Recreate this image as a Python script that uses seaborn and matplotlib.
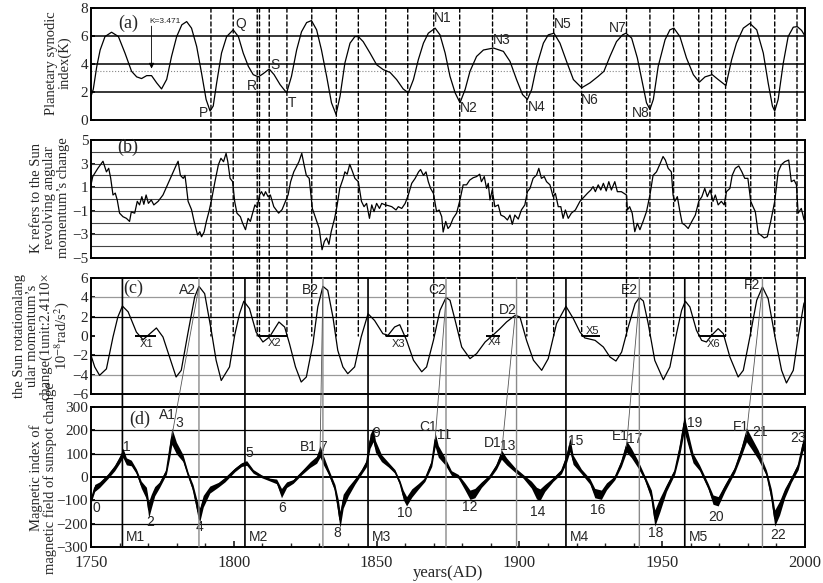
import numpy as np
import matplotlib
matplotlib.use("Agg")
import matplotlib.pyplot as plt
import seaborn as sns
from matplotlib.patches import ConnectionPatch

# ---------------- data ----------------
a_years = [1750, 1750.8, 1752, 1753.2, 1754.9, 1757.2, 1759.6, 1761.9, 1764.2, 1766,
           1767.7, 1769.5, 1771.2, 1773, 1774.7, 1776.5, 1778.2, 1780, 1781.8, 1783.5,
           1785.2, 1787, 1788.7, 1790.3, 1791.7, 1792.8, 1794, 1795.7, 1797.5, 1799.8,
           1801.6, 1803.3, 1805.1, 1806.8, 1808.6, 1810.3, 1812.4, 1814.1, 1816.2, 1818.5,
           1820.2, 1822, 1823.7, 1825.5, 1827.2, 1829, 1830.7, 1832.5, 1834.2, 1835.8,
           1837.2, 1838.9, 1840.7, 1842.4, 1843.6, 1845.3, 1847.7, 1850, 1852.3, 1854.7,
           1857, 1859.3, 1861.1, 1862.9, 1864.6, 1866.4, 1868.1, 1870.5, 1872.2, 1874,
           1875.7, 1877.5, 1879.2, 1881, 1882.7, 1885, 1887.4, 1890.9, 1894.4, 1896.7,
           1899, 1901.1, 1902.8, 1904.3, 1906, 1908.4, 1910.1, 1912.1, 1914.2, 1916.5,
           1918.9, 1921.8, 1924.7, 1927.6, 1929.6, 1931.7, 1934, 1936.1, 1937.3, 1939.3,
           1941.3, 1943.1, 1944.5, 1945.7, 1946.9, 1948.6, 1951, 1952.7, 1954.1, 1956.2,
           1958.5, 1960.9, 1963, 1965, 1967.5, 1969.6, 1972.3, 1974.3, 1976, 1978.4,
           1980.7, 1983.1, 1985.4, 1987.1, 1988.6, 1989.4, 1990.6, 1992.4, 1994.1, 1995.9,
           1997.3, 1998.8, 2000]
a_vals = [1.7, 2.2, 3.8, 5.0, 5.96, 6.27, 5.96, 4.78, 3.48, 3.08,
          2.96, 3.17, 3.17, 2.65, 2.22, 2.9, 4.54, 5.96, 6.8, 7.03,
          6.56, 5.25, 3.36, 1.47, 0.64, 1.0, 2.65, 4.78, 5.96, 6.44,
          5.96, 4.78, 3.83, 3.24, 3.08, 3.31, 3.64, 3.24, 2.53, 1.94,
          3.12, 5.0, 6.3, 6.96, 7.1, 6.44, 5.0, 3.12, 1.23, 0.4,
          1.7, 4.07, 5.49, 5.96, 5.96, 5.6, 4.78, 3.95, 3.6, 3.4,
          2.89, 2.22, 1.94, 2.89, 4.3, 5.49, 6.2, 6.56, 6.08, 4.78,
          3.12, 1.94, 1.23, 2.18, 3.48, 4.54, 5.0, 5.14, 4.9, 4.19,
          2.89, 1.82, 1.47, 2.18, 3.83, 5.49, 6.08, 6.2, 5.49, 4.19,
          2.89, 2.3, 2.65, 3.12, 3.48, 4.54, 5.6, 6.08, 6.2, 5.85,
          4.43, 2.65, 1.23, 0.76, 1.47, 3.83, 5.73, 6.44, 6.56, 5.96,
          4.43, 3.24, 2.7, 3.08, 3.24, 2.89, 2.46, 4.3, 5.49, 6.56,
          6.9, 6.44, 4.78, 2.65, 0.99, 0.64, 1.47, 4.07, 5.96, 6.63,
          6.67, 6.4, 6.0]
k_mean = 3.471

b_years = [1750, 1750.6, 1752.4, 1754.2, 1755.4, 1756.2, 1756.9, 1757.7, 1758.5, 1759.2,
           1760, 1761.2, 1762.4, 1763.5, 1764.1, 1765.3, 1766.2, 1767, 1767.8, 1768.5,
           1769.3, 1770.1, 1771.1, 1772, 1773.5, 1775.2, 1777, 1778.8, 1779.9, 1780.5,
           1781.3, 1782.3, 1782.9, 1783.4, 1784, 1785.2, 1786.1, 1787.3, 1788.1, 1788.7,
           1789.6, 1790.4, 1791.3, 1792.2, 1793.4, 1794.6, 1795.5, 1796.4, 1797.3, 1797.9,
           1798.7, 1799.6, 1800.3, 1801.1, 1802.3, 1803.1, 1804.1, 1805, 1805.8, 1806.4,
           1807.4, 1808.2, 1809, 1809.7, 1810.5, 1811.1, 1812, 1812.8, 1814, 1815.7,
           1816.9, 1818.1, 1819, 1819.9, 1821, 1821.9, 1822.8, 1823.8, 1824.6, 1825.4,
           1826.4, 1827.5, 1828.7, 1829.9, 1830.9, 1831.7, 1832.5, 1833.3, 1834.1, 1835.3,
           1836.1, 1837.1, 1838.3, 1838.9, 1839.7, 1840.6, 1841.6, 1842.4, 1843.6, 1844.7,
           1845.6, 1846.5, 1847.5, 1848.3, 1849.1, 1850, 1851, 1851.8, 1853, 1854.1,
           1855.3, 1856.8, 1857.6, 1858.8, 1860, 1861.1, 1862.3, 1863.5, 1864.7, 1865.4,
           1866.4, 1867.3, 1868.1, 1868.9, 1869.9, 1871, 1871.9, 1872.8, 1873.3, 1874.2,
           1875, 1875.7, 1876.8, 1878, 1879.2, 1880.3, 1881.5, 1882.6, 1883.8, 1885,
           1886.1, 1886.7, 1887.7, 1888.5, 1889.1, 1889.7, 1890.5, 1891.4, 1892.6, 1893.5,
           1894.7, 1895.8, 1896.7, 1897.5, 1898.4, 1899.6, 1900.7, 1901.9, 1902.8, 1903.7,
           1904.8, 1906, 1906.8, 1907.7, 1908.7, 1909.5, 1910.7, 1911.8, 1912.6, 1913.6,
           1914.5, 1915.3, 1916.1, 1917.1, 1918.2, 1919.6, 1921.2, 1922.7, 1923.8, 1925,
           1925.8, 1926.6, 1927.6, 1928.5, 1929.4, 1930.4, 1931.3, 1932.2, 1933.4, 1934.3,
           1935.7, 1937.5, 1937.8, 1938.6, 1939.5, 1940.4, 1941.3, 1942.2, 1943.3, 1944.5,
           1945.7, 1946.8, 1948, 1949.1, 1950.3, 1951.1, 1952.1, 1953.2, 1953.8, 1954.4,
           1955.3, 1956.2, 1957, 1957.9, 1959.1, 1960.2, 1961.6, 1962.8, 1963.9, 1964.9,
           1965.8, 1966.8, 1967.8, 1968.6, 1969.6, 1970.7, 1971.7, 1972.5, 1973.7, 1974.5,
           1975.6, 1976.8, 1977.9, 1978.9, 1980, 1981, 1981.8, 1982.6, 1983.6, 1984.5,
           1985.7, 1986.8, 1988, 1989.4, 1990.6, 1991.7, 1992.9, 1994.3, 1995.2, 1996.2,
           1997, 1997.6, 1998.7, 1999.7, 2000]
b_vals = [1.2, 1.9, 2.6, 3.2, 2.3, 2.6, 1.75, 0.34, 0.5, -0.1,
          -1.2, -1.5, -1.64, -1.9, -1.1, -1.2, -0.2, -0.5, 0.2, -0.45,
          0.34, -0.37, -0.08, -0.5, -0.2, 0.34, 1.33, 2.3, 2.9, 3.2,
          2.0, 1.75, 2.0, 1.05, -0.2, -0.9, -1.9, -3.05, -2.77, -3.2,
          -2.8, -1.9, -1.07, -0.08, 1.47, 2.9, 3.45, 3.16, 3.87, 3.16,
          1.75, 1.47, -0.2, -1.2, -1.5, -2.06, -2.6, -1.64, -1.9, -1.36,
          -0.5, -0.73, 0.34, 0.62, 0.25, 0.62, 0.2, 0.34, -0.65, -1.2,
          -0.9, -0.2, 0.34, 1.47, 2.3, 2.74, 3.16, 3.87, 2.9, 2.0,
          1.75, -0.8, -1.64, -2.5, -4.3, -3.6, -3.3, -3.84, -2.77, -1.64,
          -0.65, 0.9, 1.75, 2.3, 2.1, 2.94, 2.3, 1.75, 1.47, -0.2,
          -0.65, -0.37, -1.64, -0.5, -1.07, -0.37, -0.8, -0.37, -0.5, -0.56,
          -0.65, -0.93, -0.65, -0.8, -0.37, 0.34, 1.33, 1.75, 2.3, 2.5,
          2.0, 2.3, 1.47, 0.9, 0.48, -1.07, -0.93, -1.5, -2.8, -1.9,
          -2.5, -2.3, -1.64, -1.2, -0.08, 1.2, 1.2, 1.6, 1.8, 1.9,
          2.1, 1.47, 1.9, 0.9, 1.33, -0.08, 0.76, -0.65, -0.5, -1.36,
          -1.5, -1.78, -1.36, -2.15, -1.36, -1.7, -0.93, -0.5, 0.62, 0.9,
          1.75, 2.03, 2.6, 1.75, 1.9, 1.47, 1.2, 0.2, 0.48, -0.65,
          -0.65, -1.64, -0.93, -1.64, -1.2, -0.93, -0.2, 0.2, 0.48, 0.76,
          1.05, 0.62, 1.2, 0.76, 1.33, 0.68, 1.47, 0.76, 1.47, 0.62,
          0.62, 0.34, -0.93, -0.65, -1.2, -2.77, -2.06, -2.6, -1.9, -1.07,
          0.34, 2.0, 2.3, 2.9, 3.6, 3.3, 2.6, 2.3, 0.34, -0.2,
          0.2, -1.07, -2.06, -2.2, -2.5, -1.98, -1.36, -0.2, 0.2, 0.9,
          0.2, 0.76, -0.2, 0.34, -0.5, -0.2, -0.5, 0.62, 0.9, 2.0,
          2.6, 2.8, 2.3, 1.75, 1.75, -0.2, -0.65, -1.07, -2.9, -3.05,
          -3.3, -3.2, -1.9, -0.2, 2.3, 2.9, 3.16, 3.3, 1.47, 1.6,
          1.2, -1.2, -0.8, -1.78, -1.5]

c_years = [1750, 1751.3, 1753, 1755.4, 1757.7, 1759.4, 1761, 1763, 1765.9, 1768.2,
           1770, 1772.9, 1775.2, 1777.5, 1779.8, 1781.6, 1783.9, 1786.3, 1787.8, 1789.8,
           1792.1, 1793.8, 1795.6, 1798.5, 1800.3, 1802, 1803.5, 1805.5, 1807.8, 1810.2,
           1812.5, 1815.8, 1817.8, 1819.5, 1821.6, 1823.6, 1825.4, 1827.7, 1829.4, 1831.2,
           1832.9, 1834.7, 1836.4, 1838.2, 1839.9, 1842.3, 1844.6, 1847, 1849.3, 1852.2,
           1854, 1856.3, 1858.1, 1860.5, 1862.9, 1865.8, 1867.5, 1869.9, 1872.2, 1874.3,
           1875.7, 1877.5, 1879.8, 1882.7, 1885, 1888, 1890.3, 1893.2, 1895.5, 1898.5,
           1900.2, 1902.5, 1904.9, 1907.8, 1910.1, 1913, 1916.3, 1918.9, 1921.2, 1922.9,
           1926.5, 1929.4, 1931.7, 1933.8, 1935.8, 1938.1, 1940.5, 1942, 1943.4, 1945.1,
           1947.4, 1950.4, 1952.7, 1955, 1956.8, 1958.1, 1959.7, 1962, 1963.8, 1965.5,
           1967.3, 1969.6, 1971.4, 1973.7, 1976.6, 1978.4, 1980.7, 1983.1, 1985.1, 1987.1,
           1989.5, 1991.8, 1993.5, 1995.9, 1997.6, 1999.6, 2000]
c_vals = [-2.0, -3.2, -4.07, -3.4, -0.1, 1.97, 3.1, 2.5, 0.4, -0.38,
          0.07, 0.83, -0.1, -2.17, -4.24, -3.55, 0.24, 4.03, 5.14, 4.38,
          0.59, -2.5, -4.6, -3.2, 0.07, 2.3, 3.6, 2.83, 0.41, -0.62,
          -0.1, 1.45, 0.93, -0.8, -3.2, -4.76, -4.24, -0.8, 3.0, 5.14,
          4.72, 1.97, -1.48, -3.2, -3.9, -3.2, -0.1, 2.3, 1.6, 0.24,
          0.07, 0.93, 1.17, -0.45, -2.5, -3.7, -3.2, -0.45, 2.66, 3.97,
          3.7, 1.62, -1.14, -2.34, -1.83, -0.62, -0.03, 0.76, 1.45, 2.14,
          1.97, -0.45, -2.5, -3.55, -2.34, 1.28, 3.07, 1.79, 0.41, -0.2,
          -0.45, -1.14, -2.17, -2.59, -1.66, 0.93, 3.34, 3.97, 3.62, 1.28,
          -2.52, -4.52, -3.2, 0.24, 2.66, 3.6, 3.0, 0.59, -0.45, -0.62,
          0.07, 0.76, 0.24, -2.17, -4.24, -3.55, -0.1, 3.7, 5.07, 3.86,
          -0.1, -3.55, -4.86, -3.55, -0.1, 3.34, 3.6]

d_years = [1750.1, 1751.3, 1753, 1755.9, 1758.3, 1760, 1761.2, 1762.4, 1764.1, 1765.9,
           1767.6, 1769.4, 1770.2, 1771.1, 1772.3, 1774, 1776.4, 1777.5, 1778.3, 1779.9,
           1782.2, 1784, 1785.7, 1787.5, 1788.1, 1789.3, 1791.6, 1794.6, 1796.9, 1800.4,
           1802.7, 1804.5, 1806.8, 1809.7, 1812.6, 1815, 1816.7, 1818.5, 1820.8, 1823.7,
           1826.7, 1829, 1830.2, 1831.3, 1833.1, 1835.4, 1836.6, 1837.2, 1838.3, 1840.1,
           1842.4, 1844.8, 1846.5, 1847.7, 1848.8, 1849.6, 1851.7, 1854.1, 1856.4, 1858.2,
           1859.3, 1860.5, 1862.3, 1864.6, 1866.9, 1869.3, 1870.5, 1871.6, 1874, 1876.2,
           1878.6, 1880.9, 1882.7, 1884.4, 1886.7, 1889.7, 1892, 1893.7, 1895.5, 1898.4,
           1901.3, 1904.2, 1906, 1907.2, 1908.9, 1911.8, 1914.7, 1916.5, 1917.7, 1918.8,
           1921.7, 1924.7, 1926.4, 1928.7, 1930.5, 1933.4, 1935.7, 1937.5, 1939.2, 1941.6,
           1943.9, 1946.2, 1947.4, 1949.2, 1951.5, 1954.4, 1956.2, 1957.7, 1958.5, 1960.8,
           1963.1, 1966.1, 1967.8, 1969.6, 1971.9, 1975.4, 1977.7, 1979.5, 1981.2, 1983.6,
           1986.5, 1988.2, 1989.4, 1991.1, 1992.9, 1995.2, 1997.6, 1999.3, 2000]
d_vals = [-97, -47, -33, 3, 39, 74, 103, 67, 60, 24,
          -33, -69, -140, -104, -61, -33, 24, 110, 174, 124,
          81, 10, -47, -147, -161, -104, -54, -33, -11, 31,
          53, 60, 24, 3, -11, -19, -69, -33, -19, 17,
          53, 74, 110, 74, 24, -47, -133, -183, -104, -61,
          -19, 24, 60, 153, 181, 131, 81, 53, 24, -26,
          -76, -104, -69, -40, -11, 60, 160, 110, 67, 17,
          3, -40, -76, -69, -33, 3, 46, 96, 67, 31,
          3, -33, -69, -76, -47, -11, 24, 81, 139, 74,
          24, -19, -69, -76, -40, -4, 60, 131, 103, 53,
          -4, -76, -176, -119, -47, 24, 124, 230, 189, 81,
          39, -40, -97, -104, -47, 31, 110, 181, 146, 96,
          17, -76, -176, -133, -69, -11, 46, 139, 120]
d_spread = [10, 15, 12, 10, 12, 15, 20, 15, 12, 10,
            15, 25, 35, 30, 20, 12, 12, 30, 35, 25,
            15, 10, 15, 30, 30, 25, 15, 10, 10, 8,
            8, 10, 8, 6, 6, 10, 20, 12, 8, 8,
            12, 15, 25, 20, 12, 15, 35, 35, 30, 20,
            12, 10, 15, 30, 30, 25, 15, 10, 8, 10,
            20, 20, 18, 12, 8, 15, 30, 25, 15, 10,
            8, 15, 20, 20, 12, 8, 12, 20, 15, 10,
            8, 15, 25, 25, 15, 8, 10, 20, 30, 20,
            10, 12, 20, 20, 15, 8, 15, 25, 20, 15,
            10, 20, 35, 30, 15, 12, 25, 35, 30, 20,
            12, 12, 20, 20, 15, 12, 20, 30, 25, 20,
            12, 25, 35, 30, 20, 12, 15, 25, 20]

dash_years = [1792.0, 1799.8, 1808.2, 1809.0, 1812.4, 1818.6, 1827.3, 1835.9, 1843.6,
              1853.2, 1860.9, 1870.0, 1879.1, 1890.6, 1902.6, 1912.0, 1921.8, 1937.5,
              1945.7, 1954.0, 1962.8, 1967.3, 1972.2, 1981.0, 1989.4, 1997.2]
m_years = [1761.0, 1803.9, 1847.0, 1916.3, 1957.9]
m_labels = ["M1", "M2", "M3", "M4", "M5"]
g_years = [1787.8, 1831.2, 1874.3, 1899.0, 1942.0, 1985.1]
link_d_years = [1778.3, 1830.2, 1870.5, 1893.7, 1937.5, 1979.5]
link_c_years = [1787.8, 1831.2, 1874.3, 1898.5, 1942.0, 1985.1]
x_seg_start = [1765.3, 1808.6, 1853.3, 1888.3, 1921.8, 1963.0]
x_seg_end = [1772.9, 1818.6, 1861.0, 1893.2, 1928.2, 1972.3]
x_labels = ["X1", "X2", "X3", "X4", "X5", "X6"]

# ---------------- style ----------------
sns.set_theme(style="white")
plt.rcParams['font.family'] = ['Liberation Serif', 'DejaVu Serif']
plt.rcParams['mathtext.fontset'] = 'stix'
SANS = ['Liberation Sans', 'DejaVu Sans']
TICK_FS = 11

fig = plt.figure(figsize=(8.23, 5.83), dpi=100)
FW, FH = 823.0, 583.0
L, R = 91, 805


def pos(top, bot):
    return [L / FW, 1 - bot / FH, (R - L) / FW, (bot - top) / FH]


ax_a = fig.add_axes(pos(8, 120))
ax_b = fig.add_axes(pos(140, 258))
ax_c = fig.add_axes(pos(278, 394))
ax_d = fig.add_axes(pos(407, 547))
axes = [ax_a, ax_b, ax_c, ax_d]

for ax in axes:
    ax.set_xlim(1750, 2000)
    for s in ax.spines.values():
        s.set_color('black')
        s.set_linewidth(1.4)
    ax.tick_params(axis='y', labelsize=TICK_FS, direction='in', length=3,
                   left=True, color='black', pad=2)
    ax.set_xlabel('')
    ax.set_ylabel('')

for ax in [ax_a, ax_b, ax_c]:
    ax.set_xticks([])

# panel (a)
ax_a.set_ylim(0, 8)
ax_a.set_yticks([0, 2, 4, 6, 8])
for yv in [2, 4, 6]:
    ax_a.axhline(yv, color='black', lw=1.1, zorder=1)
ax_a.axhline(k_mean, color='#888888', lw=0.8, ls=':', zorder=1)
sns.lineplot(x=a_years, y=a_vals, ax=ax_a, color='black', lw=0.9,
             estimator=None, sort=False, legend=False)

# panel (b)
ax_b.set_ylim(-5, 5)
ax_b.set_yticks([-5, -3, -1, 1, 3, 5])
for yv in range(-4, 5):
    ax_b.axhline(yv, color='#444444', lw=0.8, zorder=1)
sns.lineplot(x=b_years, y=b_vals, ax=ax_b, color='black', lw=0.9,
             estimator=None, sort=False, legend=False)

# panel (c)
ax_c.set_ylim(-6, 6)
ax_c.set_yticks([-6, -4, -2, 0, 2, 4, 6])
for yv, col in [(4, '#999999'), (2, 'black'), (-2, 'black'), (-4, '#999999')]:
    ax_c.axhline(yv, color=col, lw=0.9, zorder=1)
ax_c.hlines([0] * len(x_seg_start), x_seg_start, x_seg_end, color='black', lw=1.4)
sns.lineplot(x=c_years, y=c_vals, ax=ax_c, color='black', lw=0.9,
             estimator=None, sort=False, legend=False)

# panel (d)
ax_d.set_ylim(-300, 300)
ax_d.set_yticks(list(range(-300, 301, 100)))
for yv in [200, 100, -100, -200]:
    ax_d.axhline(yv, color='black', lw=0.9, zorder=1)
ax_d.axhline(0, color='black', lw=1.4, zorder=1)
dv = np.array(d_vals, dtype=float)
ds = np.array(d_spread, dtype=float)
ax_d.fill_between(d_years, dv - ds, dv + ds, color='black', lw=0, zorder=2)
sns.lineplot(x=d_years, y=d_vals, ax=ax_d, color='black', lw=1.0,
             estimator=None, sort=False, legend=False)
ax_d.set_xticks([1750, 1800, 1850, 1900, 1950, 2000])
ax_d.set_xticks(list(range(1760, 2000, 10)), minor=True)
ax_d.tick_params(axis='x', which='major', labelsize=12, direction='in',
                 length=4, bottom=True, pad=6)
ax_d.tick_params(axis='x', which='minor', direction='in', length=3, bottom=True)

# vertical dashed lines from (a) down to the zero line of (c)
for x in dash_years:
    cp = ConnectionPatch(xyA=(x, 8), coordsA='data', axesA=ax_a,
                         xyB=(x, 0), coordsB='data', axesB=ax_c,
                         color='black', lw=1.0, linestyle=(0, (3, 2)), zorder=5)
    fig.add_artist(cp)

# vertical solid lines through (c) and (d)
for x in m_years:
    cp = ConnectionPatch(xyA=(x, 6), coordsA='data', axesA=ax_c,
                         xyB=(x, -300), coordsB='data', axesB=ax_d,
                         color='black', lw=1.2, zorder=5)
    fig.add_artist(cp)
for x in g_years:
    cp = ConnectionPatch(xyA=(x, 6), coordsA='data', axesA=ax_c,
                         xyB=(x, -300), coordsB='data', axesB=ax_d,
                         color='#8a8a8a', lw=1.0, zorder=5)
    fig.add_artist(cp)

# slanted links from sunspot peaks to angular-momentum peaks
for xd, xc in zip(link_d_years, link_c_years):
    yd = float(np.interp(xd, d_years, d_vals))
    yc = float(np.interp(xc, c_years, c_vals))
    cp = ConnectionPatch(xyA=(xd, yd), coordsA='data', axesA=ax_d,
                         xyB=(xc, yc), coordsB='data', axesB=ax_c,
                         color='#555555', lw=0.6, zorder=6)
    fig.add_artist(cp)

# ---------------- text ----------------
ax_a.text(1763, 6.9, '(a)', fontsize=13, ha='center', va='center')
ax_b.text(1763, 4.35, '(b)', fontsize=13, ha='center', va='center')
ax_c.text(1764.7, 4.9, '(c)', fontsize=13, ha='center', va='center')
ax_d.text(1767.2, 245, '(d)', fontsize=13, ha='center', va='center')

ax_a.text(1776, 7.05, 'K=3.471', fontsize=6, family=SANS, ha='center', va='center')
ax_a.annotate('', xy=(1771.2, k_mean), xytext=(1771.2, 6.9),
              arrowprops=dict(arrowstyle='-|>', color='black', lw=0.6,
                              mutation_scale=8))

a_labels = [('P', 1789.3, 0.5), ('Q', 1802.4, 6.85), ('R', 1806.3, 2.45),
            ('S', 1814.4, 3.95), ('T', 1820.4, 1.2), ('N1', 1873.1, 7.25),
            ('N2', 1882.4, 0.86), ('N3', 1893.7, 5.75), ('N4', 1906.1, 0.93),
            ('N5', 1915.2, 6.85), ('N6', 1924.8, 1.43), ('N7', 1934.4, 6.6),
            ('N8', 1942.6, 0.5)]
for t, x, y in a_labels:
    ax_a.text(x, y, t, fontsize=10, family=SANS, ha='center', va='center')

c_labels = [('A2', 1783.9, 4.75), ('B2', 1826.7, 4.75), ('C2', 1871.3, 4.75),
            ('D2', 1895.8, 2.7), ('E2', 1938.7, 4.75), ('F2', 1981.3, 5.25)]
for t, x, y in c_labels:
    ax_c.text(x, y, t, fontsize=10, family=SANS, ha='center', va='center')
x_lab_y = [-0.8, -0.75, -0.8, -0.65, 0.5, -0.85]
for t, x0, x1, y in zip(x_labels, x_seg_start, x_seg_end, x_lab_y):
    ax_c.text((x0 + x1) / 2 + 0.5, y, t, fontsize=8, family=SANS,
              ha='center', va='center')

d_labels = [('0', 1752.0, -135), ('1', 1762.6, 129), ('2', 1770.6, -195),
            ('3', 1781.0, 232), ('4', 1787.9, -215), ('5', 1805.6, 103),
            ('6', 1816.9, -135), ('7', 1831.3, 129), ('8', 1836.3, -240),
            ('9', 1850.0, 189), ('10', 1859.9, -155), ('11', 1873.6, 180),
            ('12', 1882.7, -130), ('13', 1896.0, 133), ('14', 1906.5, -150),
            ('15', 1919.8, 155), ('16', 1927.5, -142), ('17', 1940.4, 163),
            ('18', 1947.8, -240), ('19', 1961.4, 232), ('20', 1969.0, -172),
            ('21', 1984.2, 193), ('22', 1990.5, -249), ('23', 1997.6, 167),
            ('A1', 1776.8, 266), ('B1', 1826.0, 129), ('C1', 1868.0, 215),
            ('D1', 1890.6, 146), ('E1', 1935.2, 176), ('F1', 1977.7, 215)]
for t, x, y in d_labels:
    ax_d.text(x, y, t, fontsize=10, family=SANS, ha='center', va='center')
for t, x in zip(m_labels, m_years):
    ax_d.text(x + 1.3, -258, t, fontsize=10, family=SANS, ha='left', va='center')

# axis titles
fig.text(448 / FW, 1 - 573 / FH, 'years(AD)', fontsize=12, ha='center', va='center')
ylab_kw = dict(rotation=90, ha='center', va='center', fontsize=10.5,
               multialignment='center', linespacing=1.0)
fig.text(58 / FW, 1 - 63 / FH, 'Planetary synodic\nindex(K)', **ylab_kw)
fig.text(50 / FW, 1 - 198 / FH,
         "K refers to the Sun\nrevolving angular\nmomentum\u2019s change", **ylab_kw)
fig.text(42 / FW, 1 - 336 / FH,
         "the Sun rotationalang\nular momentum\u2019s\nchange(1unit:2.4110\u00d7\n"
         "10$^{-8}$rad/s$^{2}$)", **ylab_kw)
fig.text(43 / FW, 1 - 478 / FH,
         'Magnetic index of\nmagnetic field of sunspot change', **ylab_kw)

fig.savefig('out.png', dpi=100)
